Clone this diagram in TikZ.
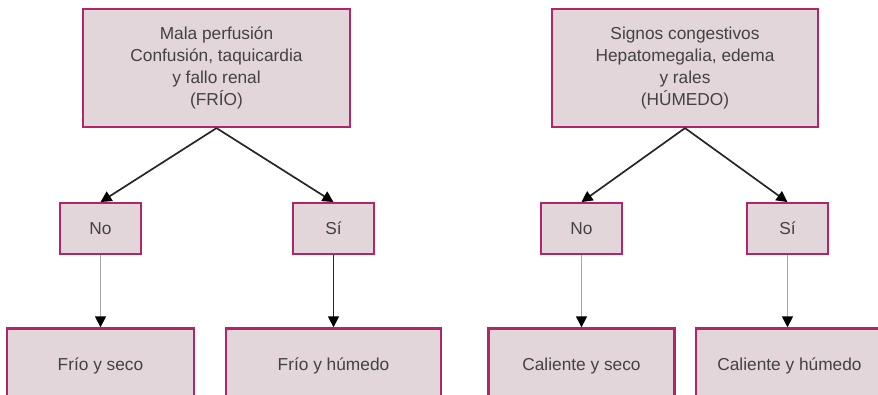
\documentclass[tikz,border=0pt]{standalone}
\usepackage{fontspec}
\setmainfont{Liberation Sans}
\usetikzlibrary{arrows.meta, positioning}

\definecolor{borde}{HTML}{B3246A}
\definecolor{relleno}{HTML}{E2D6DA}
\definecolor{texto}{HTML}{424242}
\definecolor{gris}{HTML}{A5A5A5}

\begin{document}
\begin{tikzpicture}[
            x=1pt, y=-1pt,
            -{Triangle[length=11pt,width=11pt,color=black]},
            font=\fontsize{17.3}{22}\selectfont
        ]
        \tikzstyle{caja}=[draw=borde, fill=relleno, text=texto, line width=2.2pt, align=center, inner sep=0pt]
        \tikzstyle{signo}=[caja, minimum width=267pt, minimum height=118pt]
        \tikzstyle{resp}=[caja, minimum width=81pt, minimum height=51pt]
        \tikzstyle{perfil}=[caja, minimum width=187pt, minimum height=76pt]
        \tikzstyle{every edge}=[draw=black!85, line width=1.7pt]

        \clip (0,0) rectangle (878,395);

        % perfusion
        \node[signo] (frio) at (216.5,68) {Mala perfusión\\Confusión, taquicardia\\y fallo renal\\ (FRÍO)};
        \node[resp] (fno) [below=74pt of frio, xshift=-116pt] {No};
        \node[resp] (fsi) [below=74pt of frio, xshift=117pt] {Sí};
        \node[perfil] (fseco) [below=72pt of fno] {Frío y seco};
        \node[perfil, minimum width=215pt] (fhumedo) [below=72pt of fsi] {Frío y húmedo};

        % congestion
        \node[signo, minimum width=266pt] (humedo) at (685,68) {Signos congestivos\\Hepatomegalia, edema\\y rales\\ (HÚMEDO)};
        \node[resp] (hno) [below=74pt of humedo, xshift=-103.5pt] {No};
        \node[resp] (hsi) [below=74pt of humedo, xshift=102.5pt] {Sí};
        \node[perfil, minimum width=186pt] (cseco) [below=72pt of hno] {Caliente y seco};
        \node[perfil] (chumedo) [below=72pt of hsi, xshift=2pt] {Caliente y húmedo};

        \path (frio.south) edge (fno.north)
        (frio.south) edge (fsi.north)
        (fno.south) edge [draw=gris] (fseco.north)
        (fsi.south) edge (fhumedo.north)
        (humedo.south) edge (hno.north)
        (humedo.south) edge (hsi.north)
        (hno.south) edge [draw=gris] (cseco.north)
        (hsi.south) edge [draw=gris] ([xshift=-2pt]chumedo.north);
    \end{tikzpicture}
\end{document}
